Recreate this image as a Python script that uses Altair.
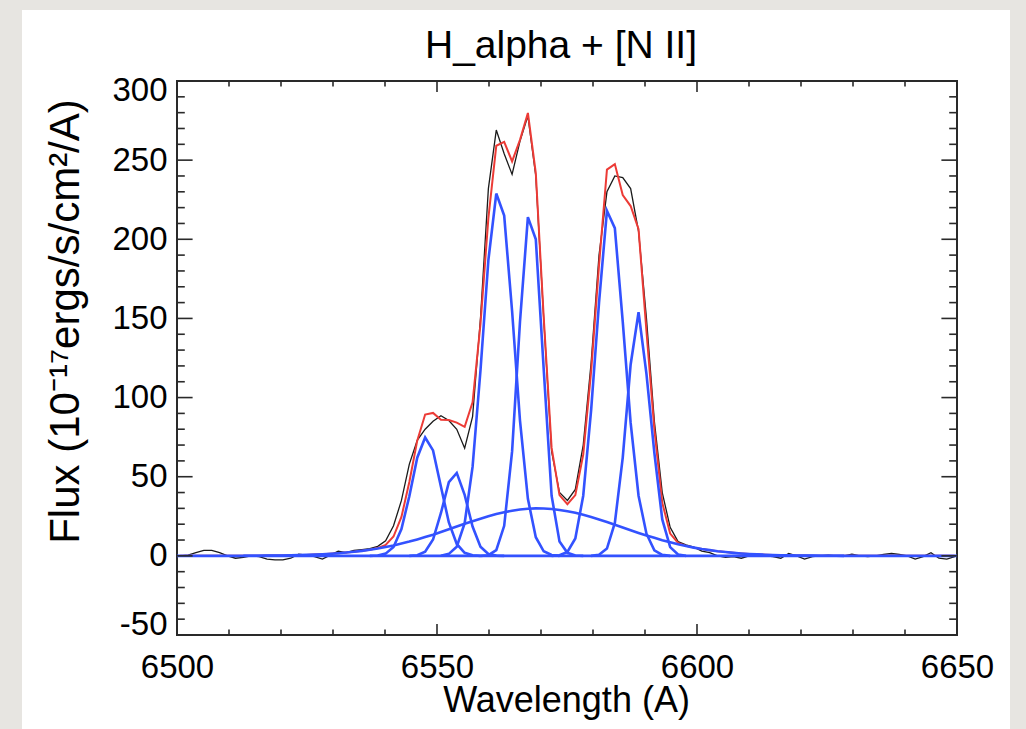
import altair as alt
import pandas as pd

# ---------------- data ----------------
wave = [6500.60, 6502.12, 6503.64, 6505.16, 6506.68, 6508.20, 6509.72, 6511.24, 6512.76, 6514.28,
        6515.80, 6517.32, 6518.84, 6520.36, 6521.88, 6523.40, 6524.92, 6526.44, 6527.96, 6529.48,
        6531.00, 6532.52, 6534.04, 6535.56, 6537.08, 6538.60, 6540.12, 6541.64, 6543.16, 6544.68,
        6546.20, 6547.72, 6549.24, 6550.76, 6552.28, 6553.80, 6555.32, 6556.84, 6558.36, 6559.88,
        6561.40, 6562.92, 6564.44, 6565.96, 6567.48, 6569.00, 6570.52, 6572.04, 6573.56, 6575.08,
        6576.60, 6578.12, 6579.64, 6581.16, 6582.68, 6584.20, 6585.72, 6587.24, 6588.76, 6590.28,
        6591.80, 6593.32, 6594.84, 6596.36, 6597.88, 6599.40, 6600.92, 6602.44, 6603.96, 6605.48,
        6607.00, 6608.52, 6610.04, 6611.56, 6613.08, 6614.60, 6616.12, 6617.64, 6619.16, 6620.68,
        6622.20, 6623.72, 6625.24, 6626.76, 6628.28, 6629.80, 6631.32, 6632.84, 6634.36, 6635.88,
        6637.40, 6638.92, 6640.44, 6641.96, 6643.48, 6645.00, 6646.52, 6648.04, 6649.56]

observed = [0, 0.5, 2, 3.5, 3.5, 2, 0, -1.5, -1, 0,
            -0.5, -2, -2.5, -2.5, -1.5, 1, 0.5, -0.5, -2, 0.5,
            3, 2, 3.5, 4, 4.5, 6, 9.5, 19, 35, 58,
            73, 80, 85, 88.5, 85.5, 80, 68, 88, 150, 232,
            269, 254, 241, 262, 278, 240, 150, 66, 40, 35,
            42, 70, 122, 190, 230, 240, 239, 232, 205, 150,
            85, 40, 18, 9, 7, 5.5, 3, 2, 0, -1,
            -0.5, -1.5, 0, 0.5, 0, -0.5, -1.5, 1.5, 0, -2,
            -0.5, 0, 0.5, 0, 0, 1, 0, -0.5, 0, 1,
            1.5, 1, 0, -2, -0.5, 2, -1.5, -2, -0.5]

model = [0, 0, 0, 0, 0, 0, 0, 0, 0.05, 0.08,
         0.11, 0.15, 0.2, 0.27, 0.36, 0.47, 0.62, 0.8, 1.0, 1.3,
         1.7, 2.1, 2.6, 3.2, 3.9, 4.9, 6.9, 12.2, 24.6, 46.7,
         72.8, 89.3, 90.3, 86.0, 85.8, 84.2, 81.5, 97.0, 146.4, 213.4,
         259.1, 261.6, 249.2, 262.8, 279.8, 241.8, 150.8, 68.2, 38.4, 32.6,
         38.4, 63.9, 116.5, 183.7, 244.0, 247.5, 228.0, 221.0, 206.4, 141.9,
         79.9, 33.5, 14.1, 8.2, 6.3, 5.2, 4.3, 3.6, 2.9, 2.4,
         1.9, 1.5, 1.2, 0.95, 0.74, 0.56, 0.43, 0.33, 0.24, 0.18,
         0.13, 0.09, 0.06, 0.04, 0, 0, 0, 0, 0, 0,
         0, 0, 0, 0, 0, 0, 0, 0, 0]

# fitted components: (index of first sample in `wave`, values)
nii6548_a = (24, [0, 0.24, 1.4, 5.6, 16.9, 37.7, 62.0, 74.8, 66.6, 43.6, 21.1, 7.5, 1.95, 0.38, 0])
nii6548_b = (29, [0, 0.41, 2.56, 10.3, 27.1, 46.6, 52.4, 38.5, 18.5, 5.8, 1.2, 0.16, 0])
halpha_a = (33, [0, 1.26, 5.8, 20.7, 56.2, 117.1, 186.8, 228.9, 215.0, 154.7, 85.5, 36.0, 11.8, 2.9, 0.56, 0])
halpha_b = (38, [0, 0.43, 3.6, 19.0, 66.0, 148.0, 214.0, 200.0, 118.0, 38.0, 9.0, 1.9, 0.2, 0])
nii6583_a = (47, [0, 0.4, 2.5, 11.0, 38.0, 92.0, 160.0, 218.0, 207.0, 148.0, 84.0, 38.0, 14.0, 3.5, 0.6, 0])
nii6583_b = (52, [0, 0.65, 4.6, 20.8, 62.1, 120.9, 153.9, 115.0, 65.0, 23.0, 5.5, 0.9, 0])
broad = (8, [0.05, 0.08, 0.11, 0.15, 0.2, 0.27, 0.36, 0.47, 0.62, 0.8,
             1.03, 1.3, 1.66, 2.08, 2.57, 3.16, 3.85, 4.64, 5.56, 6.59,
             7.74, 9.0, 10.4, 11.9, 13.4, 15.1, 16.8, 18.5, 20.3, 21.9,
             23.5, 25.0, 26.4, 27.6, 28.5, 29.3, 29.8, 30.0, 29.9, 29.6,
             29.0, 28.2, 27.2, 25.9, 24.5, 23.0, 21.4, 19.7, 17.9, 16.2,
             14.5, 12.9, 11.4, 9.9, 8.6, 7.3, 6.2, 5.2, 4.3, 3.6,
             2.9, 2.4, 1.9, 1.5, 1.2, 0.95, 0.74, 0.56, 0.43, 0.33,
             0.24, 0.18, 0.13, 0.09, 0.06, 0.04, 0])
baseline_wave = [6500, 6650]
baseline_flux = [0, 0]

x_major = [6500, 6550, 6600, 6650]
x_minor = [6510, 6520, 6530, 6540, 6560, 6570, 6580, 6590, 6610, 6620, 6630, 6640]
y_major = [-50, 0, 50, 100, 150, 200, 250, 300]
y_minor = [v for v in range(-40, 300, 10) if v % 50 != 0]

TITLE = "H_alpha + [N II]"
X_TITLE = "Wavelength (A)"
Y_TITLE = "Flux (10\u207b\u00b9\u2077ergs/s/cm\u00b2/A)"

# ---------------- build tables ----------------
rows = []
for w, f in zip(wave, observed):
    rows.append({"wl": w, "f": f, "series": "observed"})
for w, f in zip(wave, model):
    rows.append({"wl": w, "f": f, "series": "model"})
comps = {"nii6548_a": nii6548_a, "nii6548_b": nii6548_b, "halpha_a": halpha_a,
         "halpha_b": halpha_b, "nii6583_a": nii6583_a, "nii6583_b": nii6583_b,
         "broad": broad}
for name, (start, vals) in comps.items():
    for w, f in zip(wave[start:start + len(vals)], vals):
        rows.append({"wl": w, "f": f, "series": name})
for w, f in zip(baseline_wave, baseline_flux):
    rows.append({"wl": w, "f": f, "series": "baseline"})
df = pd.DataFrame(rows)

W, H = 780, 554
FONT = "Liberation Sans"
FRAME = "#2a2a2a"
BLUE = "#3352ff"
RED = "#ec3b36"

xscale = alt.Scale(domain=[6500, 6650], nice=False, zero=False)
yscale = alt.Scale(domain=[-50, 300], nice=False, zero=False)
xaxis = alt.Axis(values=x_major, ticks=False, domain=False, grid=False,
                 labelExpr="'' + datum.value", labelFont=FONT, labelFontSize=33,
                 labelColor="black", labelPadding=16, labelFlush=False, labelOverlap=False,
                 titleFont=FONT, titleFontSize=36, titleFontWeight="normal", titleColor="black",
                 titleX=389, titleY=76, titleBaseline="alphabetic", titleAlign="center")
yaxis = alt.Axis(values=y_major, ticks=False, domain=False, grid=False,
                 labelExpr="'' + datum.value", labelFont=FONT, labelFontSize=33,
                 labelColor="black", labelPadding=10, labelFlush=False, labelOverlap=False,
                 labelOffset={"condition": [{"test": "datum.value == 300", "value": 9},
                                            {"test": "datum.value == -50", "value": -11}],
                              "value": 0},
                 titleFont=FONT, titleFontSize=42, titleFontWeight="normal", titleColor="black",
                 titleAngle=270, titleX=-99, titleY=240, titleBaseline="alphabetic",
                 titleAlign="center")

X = alt.X("wl:Q", scale=xscale, axis=xaxis, title=X_TITLE)
Y = alt.Y("f:Q", scale=yscale, axis=yaxis, title=Y_TITLE)

base = alt.Chart(df)
obs_layer = base.transform_filter(alt.datum.series == "observed").mark_line(
    color="#1a1a1a", strokeWidth=1.3).encode(x=X, y=Y, order="wl:Q")
model_layer = base.transform_filter(alt.datum.series == "model").mark_line(
    color=RED, strokeWidth=2.0).encode(x=X, y=Y, order="wl:Q")
comp_layer = base.transform_filter(
    (alt.datum.series != "observed") & (alt.datum.series != "model")).mark_line(
    color=BLUE, strokeWidth=2.6).encode(x=X, y=Y, detail="series:N", order="wl:Q")

xt_major = pd.DataFrame({"wl": x_major})
xt_minor = pd.DataFrame({"wl": x_minor})
yt_major = pd.DataFrame({"f": y_major})
yt_minor = pd.DataFrame({"f": y_minor})

def xticks(d, y0, y1):
    return alt.Chart(d).mark_rule(color=FRAME, strokeWidth=1.6).encode(
        x=X, y=alt.value(y0), y2=alt.value(y1))

def yticks(d, x0, x1):
    return alt.Chart(d).mark_rule(color=FRAME, strokeWidth=1.6).encode(
        y=Y, x=alt.value(x0), x2=alt.value(x1))

tick_layers = [
    xticks(xt_major, H, H - 11), xticks(xt_minor, H, H - 5.5),
    xticks(xt_major, 0, 11), xticks(xt_minor, 0, 5.5),
    yticks(yt_major, 0, 15.6), yticks(yt_minor, 0, 7.8),
    yticks(yt_major, W, W - 15.6), yticks(yt_minor, W, W - 7.8),
]

# light grey page border around the white card (decoration only)
BG = "#e7e5e1"
one = alt.Data(values=[{}])
def strip(x0, x1, y0, y1):
    return alt.Chart(one).mark_rect(color=BG).encode(
        x=alt.value(x0), x2=alt.value(x1), y=alt.value(y0), y2=alt.value(y1))

strips = [strip(-177, -155, -81, 648), strip(-177, 849, -81, -71), strip(833, 849, -81, 648)]

title_layer = alt.Chart(one).mark_text(
    text=TITLE, font=FONT, fontSize=39, color="black", align="center", baseline="alphabetic"
).encode(x=alt.value(384), y=alt.value(-23))

chart = alt.layer(
    *strips, obs_layer, model_layer, comp_layer, *tick_layers, title_layer
).properties(
    width=W, height=H,
    padding={"left": 177, "top": 81, "right": 69, "bottom": 94},
    autosize=alt.AutoSizeParams(type="none"),
).configure(background="white").configure_view(stroke=FRAME, strokeWidth=2)

chart.save("out.html", embed_options={"renderer": "svg", "actions": False})
